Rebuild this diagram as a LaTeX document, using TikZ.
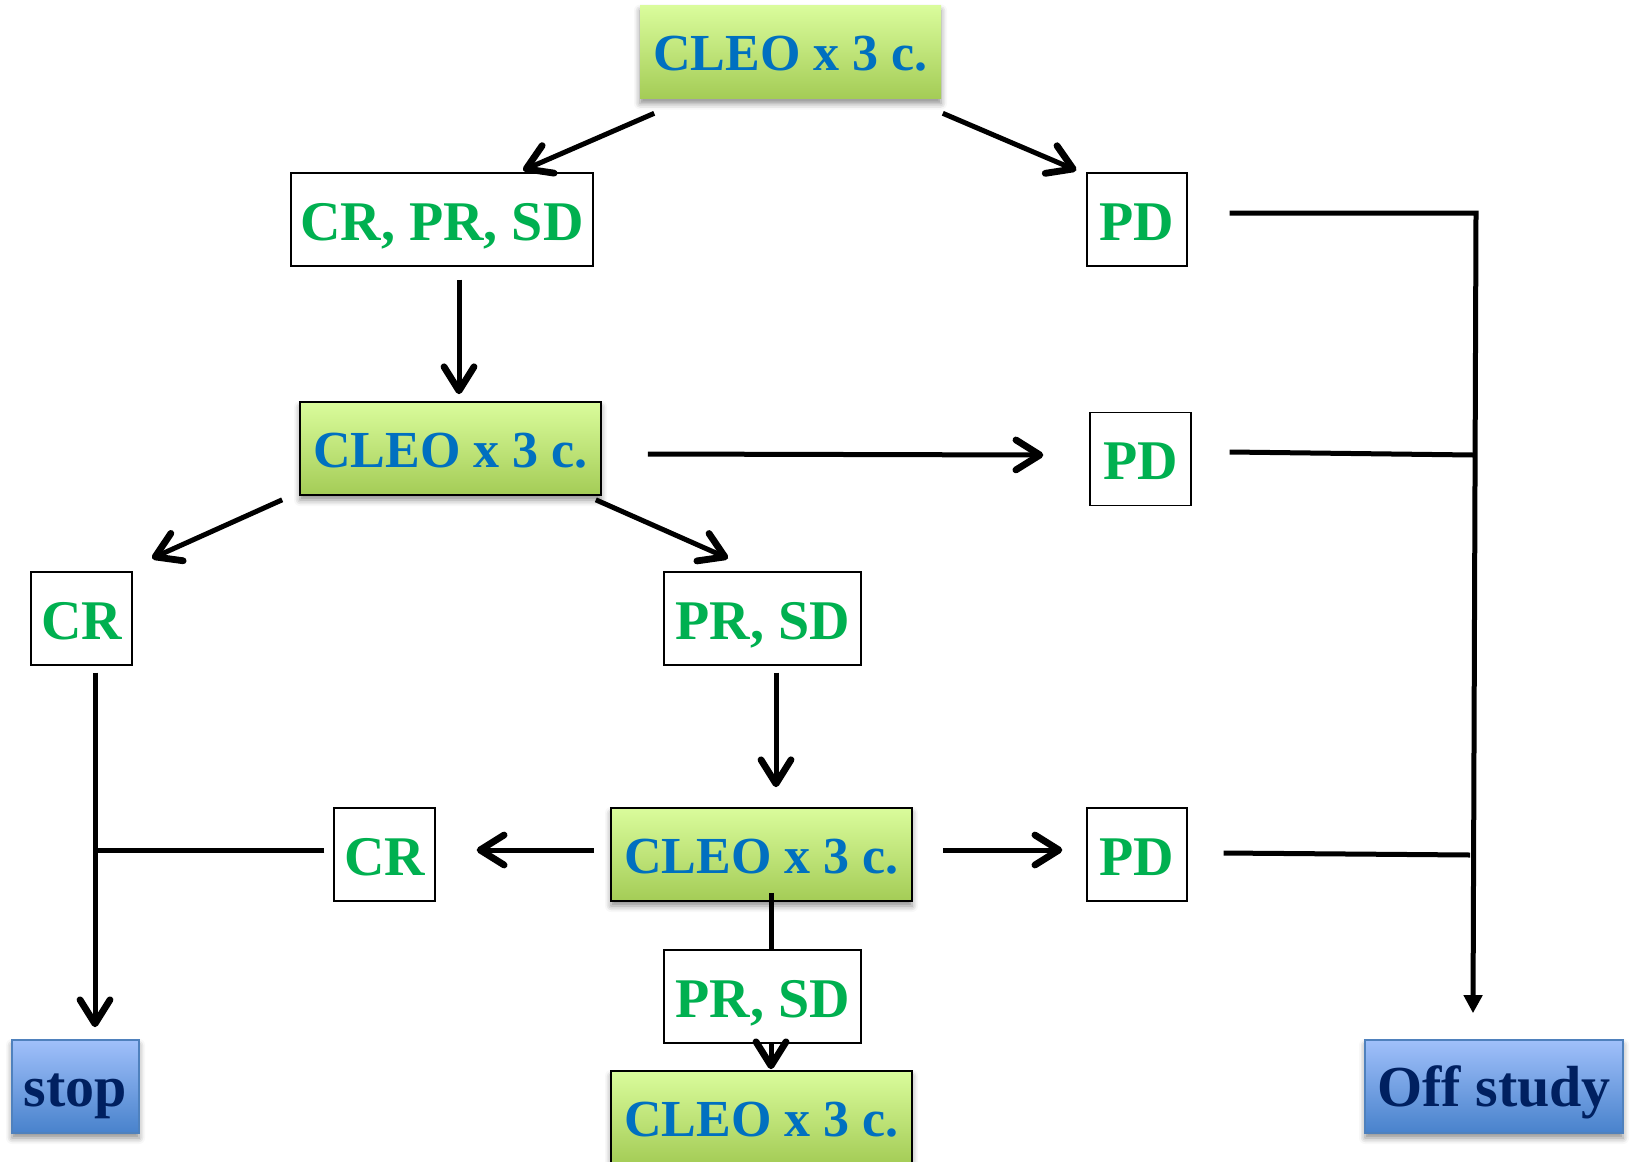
\documentclass[tikz,border=0pt]{standalone}
\usepackage{fontspec}
\setmainfont{Liberation Serif}
\usetikzlibrary{arrows.meta,shadows.blur}

\definecolor{cleoTop}{RGB}{218,252,156}
\definecolor{cleoBot}{RGB}{164,204,86}
\definecolor{cleoText}{RGB}{0,112,192}
\definecolor{respText}{RGB}{0,176,80}
\definecolor{endTop}{RGB}{160,192,250}
\definecolor{endBot}{RGB}{72,130,204}
\definecolor{endLine}{RGB}{79,129,189}
\definecolor{endText}{RGB}{0,32,96}

\begin{document}
\begin{tikzpicture}[
    x=0.5pt, y=-0.5pt,
    every node/.style={inner sep=0pt, text depth=0pt},
    cleobox/.style={rectangle, draw=black, line width=0.8pt, top color=cleoTop, bottom color=cleoBot,
        text=cleoText, font=\fontsize{26}{30}\selectfont\bfseries, text height=19pt,
        minimum width=150.5pt, minimum height=46.5pt,
        blur shadow={shadow xshift=0pt, shadow yshift=-2.5pt, shadow blur radius=3pt, shadow opacity=45}},
    respbox/.style={rectangle, draw=black, line width=0.7pt, fill=white, text=respText,
        font=\fontsize{28}{32}\selectfont\bfseries, text height=20.5pt, minimum height=46.5pt},
    endbox/.style={rectangle, draw=endLine, line width=0.8pt, top color=endTop, bottom color=endBot,
        text=endText, font=\fontsize{29}{33}\selectfont\bfseries, text height=19.5pt, minimum height=46.5pt,
        blur shadow={shadow xshift=0pt, shadow yshift=-2.5pt, shadow blur radius=3pt, shadow opacity=45}},
    arrow/.style={line width=2.5pt, -{Straight Barb[length=12pt,width=15pt,line width=3.4pt,round]}},
    link/.style={line width=2.5pt},
    bus/.style={line width=2.5pt, -{Triangle[length=9pt,width=9pt]}}
]
\useasboundingbox (0,0) rectangle (1631,1161);

% Cycles and responses
\node[cleobox, draw=none] (cleoA) at (790.5,52) {CLEO x 3 c.};
\node[respbox, minimum width=151pt] (crprsd) at (442,219.5) {CR, PR, SD};
\node[respbox, minimum width=50pt] (pdA) at (1137,219.5) {PD};
\node[cleobox] (cleoB) at (450.5,448.5) {CLEO x 3 c.};
\node[respbox, minimum width=50.5pt] (pdB) at (1140.5,459) {PD};
\node[respbox, minimum width=50.5pt] (crA) at (81.5,618.5) {CR};
\node[respbox, minimum width=98.5pt] (prsdA) at (762.5,618.5) {PR, SD};
\node[respbox, minimum width=50.5pt] (crB) at (384.5,854.5) {CR};
\node[cleobox] (cleoC) at (761.5,854.5) {CLEO x 3 c.};
\node[respbox, minimum width=50pt] (pdC) at (1137,854.5) {PD};
\node[respbox, minimum width=98.5pt] (prsdB) at (762.5,996.5) {PR, SD};
\node[cleobox] (cleoD) at (761.5,1117.5) {CLEO x 3 c.};

% End points
\node[endbox, minimum width=63.5pt] (stop) at (75.5,1086.5) {stop};
\node[endbox, minimum width=129pt] (off) at (1494,1086.5) {Off study};

% Branches after each cycle
\draw[arrow] ([shift={(15,14)}]cleoA.south west) -- ([shift={(81,-2)}]crprsd.north);
\draw[arrow] ([shift={(1,14)}]cleoA.south east) -- ([shift={(-10,-2)}]pdA.north west);
\draw[arrow] ([shift={(17,13)}]crprsd.south) -- ([shift={(8.5,-7)}]cleoB.north);
\draw[arrow] ([shift={(46,5.5)}]cleoB.east) -- ([shift={(-46,-4)}]pdB.west);
\draw[arrow] ([shift={(-17,4)}]cleoB.south west) -- ([shift={(70.5,-13)}]crA.north);
\draw[arrow] ([shift={(-6,4)}]cleoB.south east) -- ([shift={(-34.5,-13)}]prsdA.north);
\draw[arrow] ([shift={(13.5,7)}]prsdA.south) -- ([shift={(14.5,-20)}]cleoC.north);
\draw[arrow] ([shift={(-16,-4.5)}]cleoC.west) -- ([shift={(41,-4.5)}]crB.east);
\draw[arrow] ([shift={(30,-4.5)}]cleoC.east) -- ([shift={(-24,-4.5)}]pdC.west);
\draw[link] ([shift={(9.5,-9)}]cleoC.south) -- ([shift={(8.5,0)}]prsdB.north);
\draw[arrow] ([shift={(8.5,0)}]prsdB.south) -- ([shift={(9.5,-1)}]cleoD.north);

% CR goes to stop
\coordinate (joinL) at (95,850);
\draw[arrow] ([shift={(13.5,7)}]crA.south) -- ([shift={(19.5,-12)}]stop.north);
\draw[link] ([shift={(-9,-4.5)}]crB.west) -- (joinL);

% PD goes off study
\coordinate (busTop) at (1476,213);
\coordinate (busB) at (1473,455);
\coordinate (busC) at (1470,855);
\draw[bus] ([shift={(42,-6.5)}]pdA.east) -- (busTop) -- ([shift={(-21,-26)}]off.north);
\draw[link] ([shift={(38,-7)}]pdB.east) -- (busB);
\draw[link] ([shift={(36,-1.5)}]pdC.east) -- (busC);

\end{tikzpicture}
\end{document}
